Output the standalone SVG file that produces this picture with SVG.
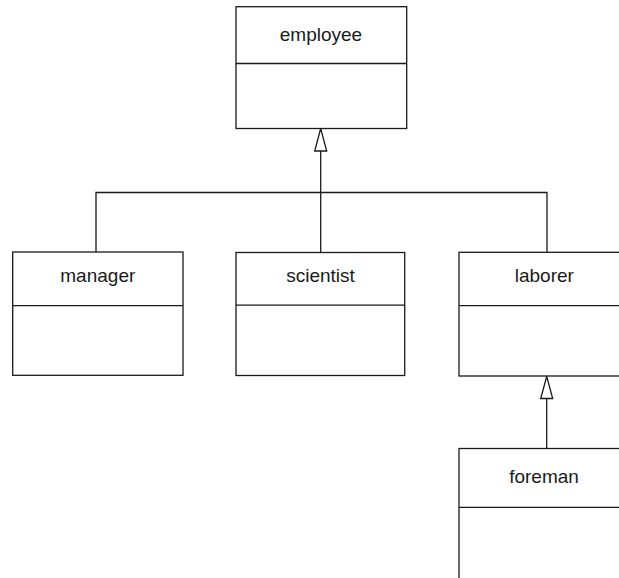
<svg xmlns="http://www.w3.org/2000/svg" width="619" height="578" viewBox="0 0 619 578">
<style>
.box{fill:#fff;stroke:#1a1a1a;stroke-width:1.3}
.div{stroke:#1a1a1a;stroke-width:1.3}
.lbl{font-family:"Liberation Sans",Arial,sans-serif;font-size:19px;fill:#1a1a1a;text-anchor:middle}
.con{fill:none;stroke:#1a1a1a;stroke-width:1.3}
.tri{fill:#fff;stroke:#1a1a1a;stroke-width:1.3}
</style>
<rect width="619" height="578" fill="#fff"/>
<g id="connectors">
<polyline class="con" points="96,252 96,192.5 547,192.5 547,252"/>
<line class="con" x1="320.7" y1="151" x2="320.7" y2="252.5"/>
<polygon class="tri" points="320.7,128.5 314.7,151 326.7,151"/>
<line class="con" x1="546.7" y1="398.5" x2="546.7" y2="448.5"/>
<polygon class="tri" points="546.7,376.5 540.7,398.5 552.7,398.5"/>
</g>
<g id="employee">
<rect class="box" x="236" y="6.7" width="170.7" height="121.8"/>
<line class="div" x1="236" y1="63.5" x2="406.7" y2="63.5"/>
<text class="lbl" x="321" y="41">employee</text>
</g>
<g id="manager">
<rect class="box" x="12.7" y="252" width="170.3" height="123.3"/>
<line class="div" x1="12.7" y1="305.7" x2="183" y2="305.7"/>
<text class="lbl" x="97.8" y="281.7">manager</text>
</g>
<g id="scientist">
<rect class="box" x="236" y="252.5" width="168.7" height="123"/>
<line class="div" x1="236" y1="305.2" x2="404.7" y2="305.2"/>
<text class="lbl" x="320.5" y="281.7">scientist</text>
</g>
<g id="laborer">
<rect class="box" x="459" y="252.3" width="171" height="123.7"/>
<line class="div" x1="459" y1="305.7" x2="630" y2="305.7"/>
<text class="lbl" x="544.3" y="281.7">laborer</text>
</g>
<g id="foreman">
<rect class="box" x="459" y="448.5" width="171" height="140"/>
<line class="div" x1="459" y1="507.3" x2="630" y2="507.3"/>
<text class="lbl" x="544" y="483.3">foreman</text>
</g>
</svg>
